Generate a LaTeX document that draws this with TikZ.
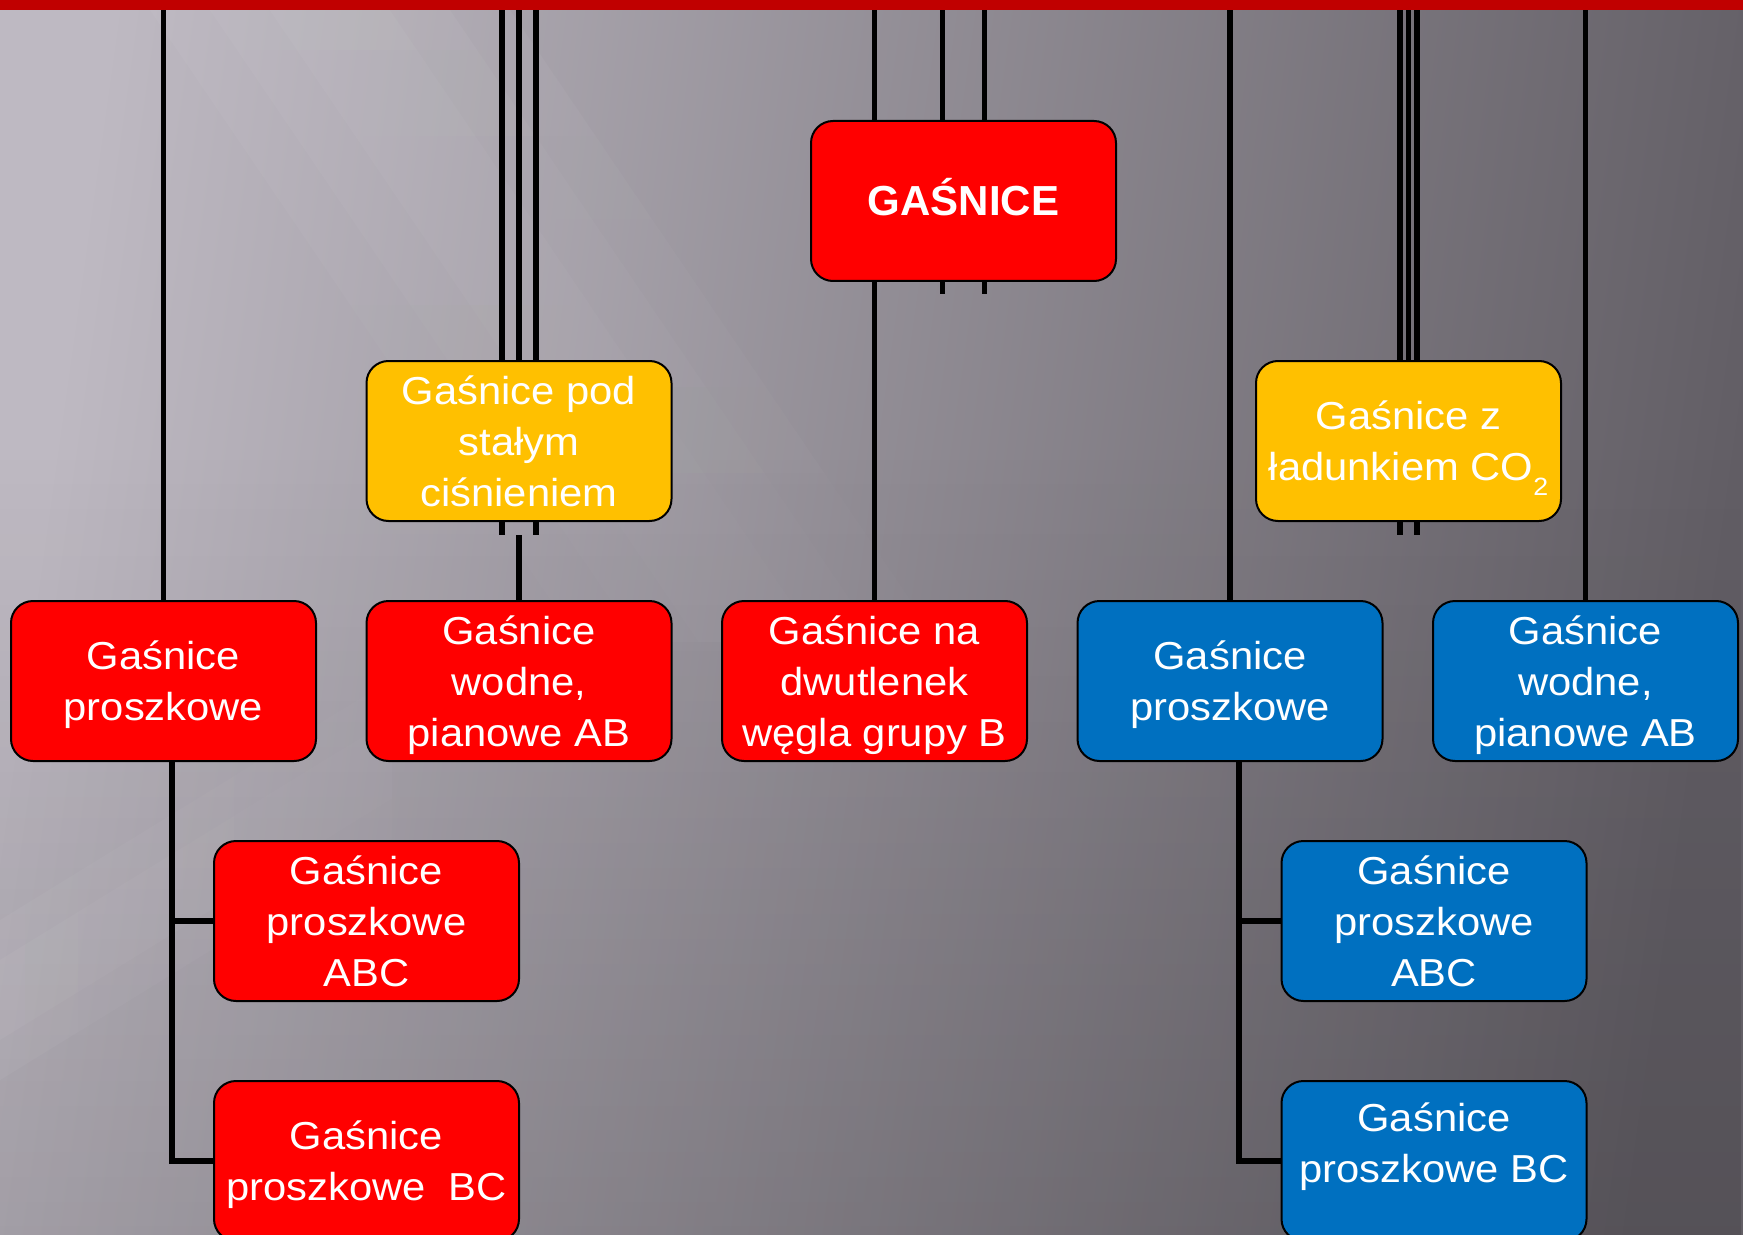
\documentclass[tikz,border=0pt]{standalone}
\usepackage{fontspec}
\setmainfont{Liberation Sans}
\newfontfamily\boxfont{Liberation Sans}[FakeStretch=1.07]
\usetikzlibrary{positioning,calc,backgrounds,fadings}
\definecolor{slidered}{RGB}{255,0,0}
\definecolor{slideyellow}{RGB}{255,192,0}
\definecolor{slideblue}{RGB}{0,112,192}
\definecolor{barred}{RGB}{192,0,0}
\definecolor{bgleft}{RGB}{190,185,194}
\definecolor{bgright}{RGB}{98,94,101}
\tikzfading[name=fade up, top color=transparent!100, bottom color=transparent!0]
\tikzfading[name=fade down, top color=transparent!0, bottom color=transparent!100]
\tikzfading[name=fade right, left color=transparent!0, right color=transparent!100]
\newcommand\boxtext{\boxfont\fontsize{19.5}{25.5}\selectfont}
\tikzset{rect/.style={
    draw=black,
    rectangle,
    rounded corners=11pt,
    line width=1pt,
    outer sep=0pt,
    minimum width=152.5pt,
    minimum height=80pt,
    inner sep=0pt,
    text depth=0pt,
    align=center,
    text=white,
    font=\boxtext,
  }}

\begin{document}
\begin{tikzpicture}[x=0.5pt, y=-0.5pt,
    red_rect/.style={rect, fill=slidered},
    yellow_rect/.style={rect, fill=slideyellow},
    blue_rect/.style={rect, fill=slideblue},
    conn/.style={draw=black, line width=2.7pt},
    streak/.style={white, fill opacity=0.04},
  ]
  \useasboundingbox (0,0) rectangle (1743,1235);

  % Slide background
  \begin{scope}[on background layer]
    \shade[top color=bgleft, bottom color=bgright, shading angle=82] (0,0) rectangle (1743,1235);
    \fill[black, fill opacity=0.13, path fading=fade up] (0,450) rectangle (1743,1235);
    \foreach \w in {60,120,180}
      \fill[streak, path fading=fade down] (330-\w,10) -- (330+\w,10) -- (900+\w,850) -- (900-\w,850) -- cycle;
    \foreach \w in {40,80}
      \fill[streak, path fading=fade right] (0,1000-\w) -- (0,1000+\w) -- (520,680+\w) -- (520,680-\w) -- cycle;
  \end{scope}
  \fill[barred] (0,0) rectangle (1743,10);
  \coordinate (top) at (0,10);

  % Top level
  \node (gasnice) [red_rect, text height=15pt, font=\bfseries\fontsize{21}{25}\selectfont] at (963.5,201) {GAŚNICE};
  \node (staly) [yellow_rect] at (519,441) {Gaśnice pod\\stałym\\ciśnieniem};
  \node (co2) [yellow_rect] at (1408.5,441) {Gaśnice z\\ładunkiem CO\raisebox{-7.5pt}{\fontsize{12.5}{12.5}\selectfont 2}};

  % Second row
  \node (wodneR) [red_rect, below=40pt of staly] {Gaśnice\\wodne,\\pianowe AB};
  \node (proszR) [red_rect, left=25.25pt of wodneR] {Gaśnice\\proszkowe};
  \node (dwutlenek) [red_rect, right=25.25pt of wodneR] {Gaśnice na\\dwutlenek\\węgla grupy B};
  \node (proszB) [blue_rect, right=25.25pt of dwutlenek] {Gaśnice\\proszkowe};
  \node (wodneB) [blue_rect, right=25.25pt of proszB] {Gaśnice\\wodne,\\pianowe AB};

  % Third row
  \node (abcR) [red_rect, below=40pt of proszR, xshift=101.5pt] {Gaśnice\\proszkowe\\ABC};
  \node (bcR) [red_rect, below=40pt of abcR] {Gaśnice\\proszkowe\ \ BC};
  \node (abcB) [blue_rect, below=40pt of proszB, xshift=102pt] {Gaśnice\\proszkowe\\ABC};
  \node (bcB) [blue_rect, below=40pt of abcB, text depth=18.5pt] {Gaśnice\\proszkowe BC};

  % Connectors
  \begin{scope}[on background layer]
    \draw[conn] (top -| proszR.north) -- (proszR.north);
    \draw[conn] (top -| staly.north) -- (staly.north);
    \foreach \dx in {-17,17}
      \draw[conn] ($(top -| staly.north)+(\dx,0)$) -- ($(staly.south)+(\dx,14)$);
    \draw[conn] ($(staly.south)+(0,14)$) -- (wodneR.north);
    \draw[conn] (top -| dwutlenek.north) -- (dwutlenek.north);
    \foreach \dx in {-21,21}
      \draw[conn] ($(top -| gasnice.north)+(\dx,0)$) -- ($(gasnice.south)+(\dx,13)$);
    \draw[conn] (top -| proszB.north) -- (proszB.north);
    \draw[conn] (top -| co2.north) -- (co2.north);
    \foreach \dx in {-8.5,8.5}
      \draw[conn] ($(top -| co2.north)+(\dx,0)$) -- ($(co2.south)+(\dx,14)$);
    \draw[conn] (top -| wodneB.north) -- (wodneB.north);
    \draw[conn] ($(proszR.south)+(8.5,0)$) |- (abcR.west);
    \draw[conn] ($(proszR.south)+(8.5,0)$) |- (bcR.west);
    \draw[conn] ($(proszB.south)+(9,0)$) |- (abcB.west);
    \draw[conn] ($(proszB.south)+(9,0)$) |- (bcB.west);
  \end{scope}
\end{tikzpicture}
\end{document}
